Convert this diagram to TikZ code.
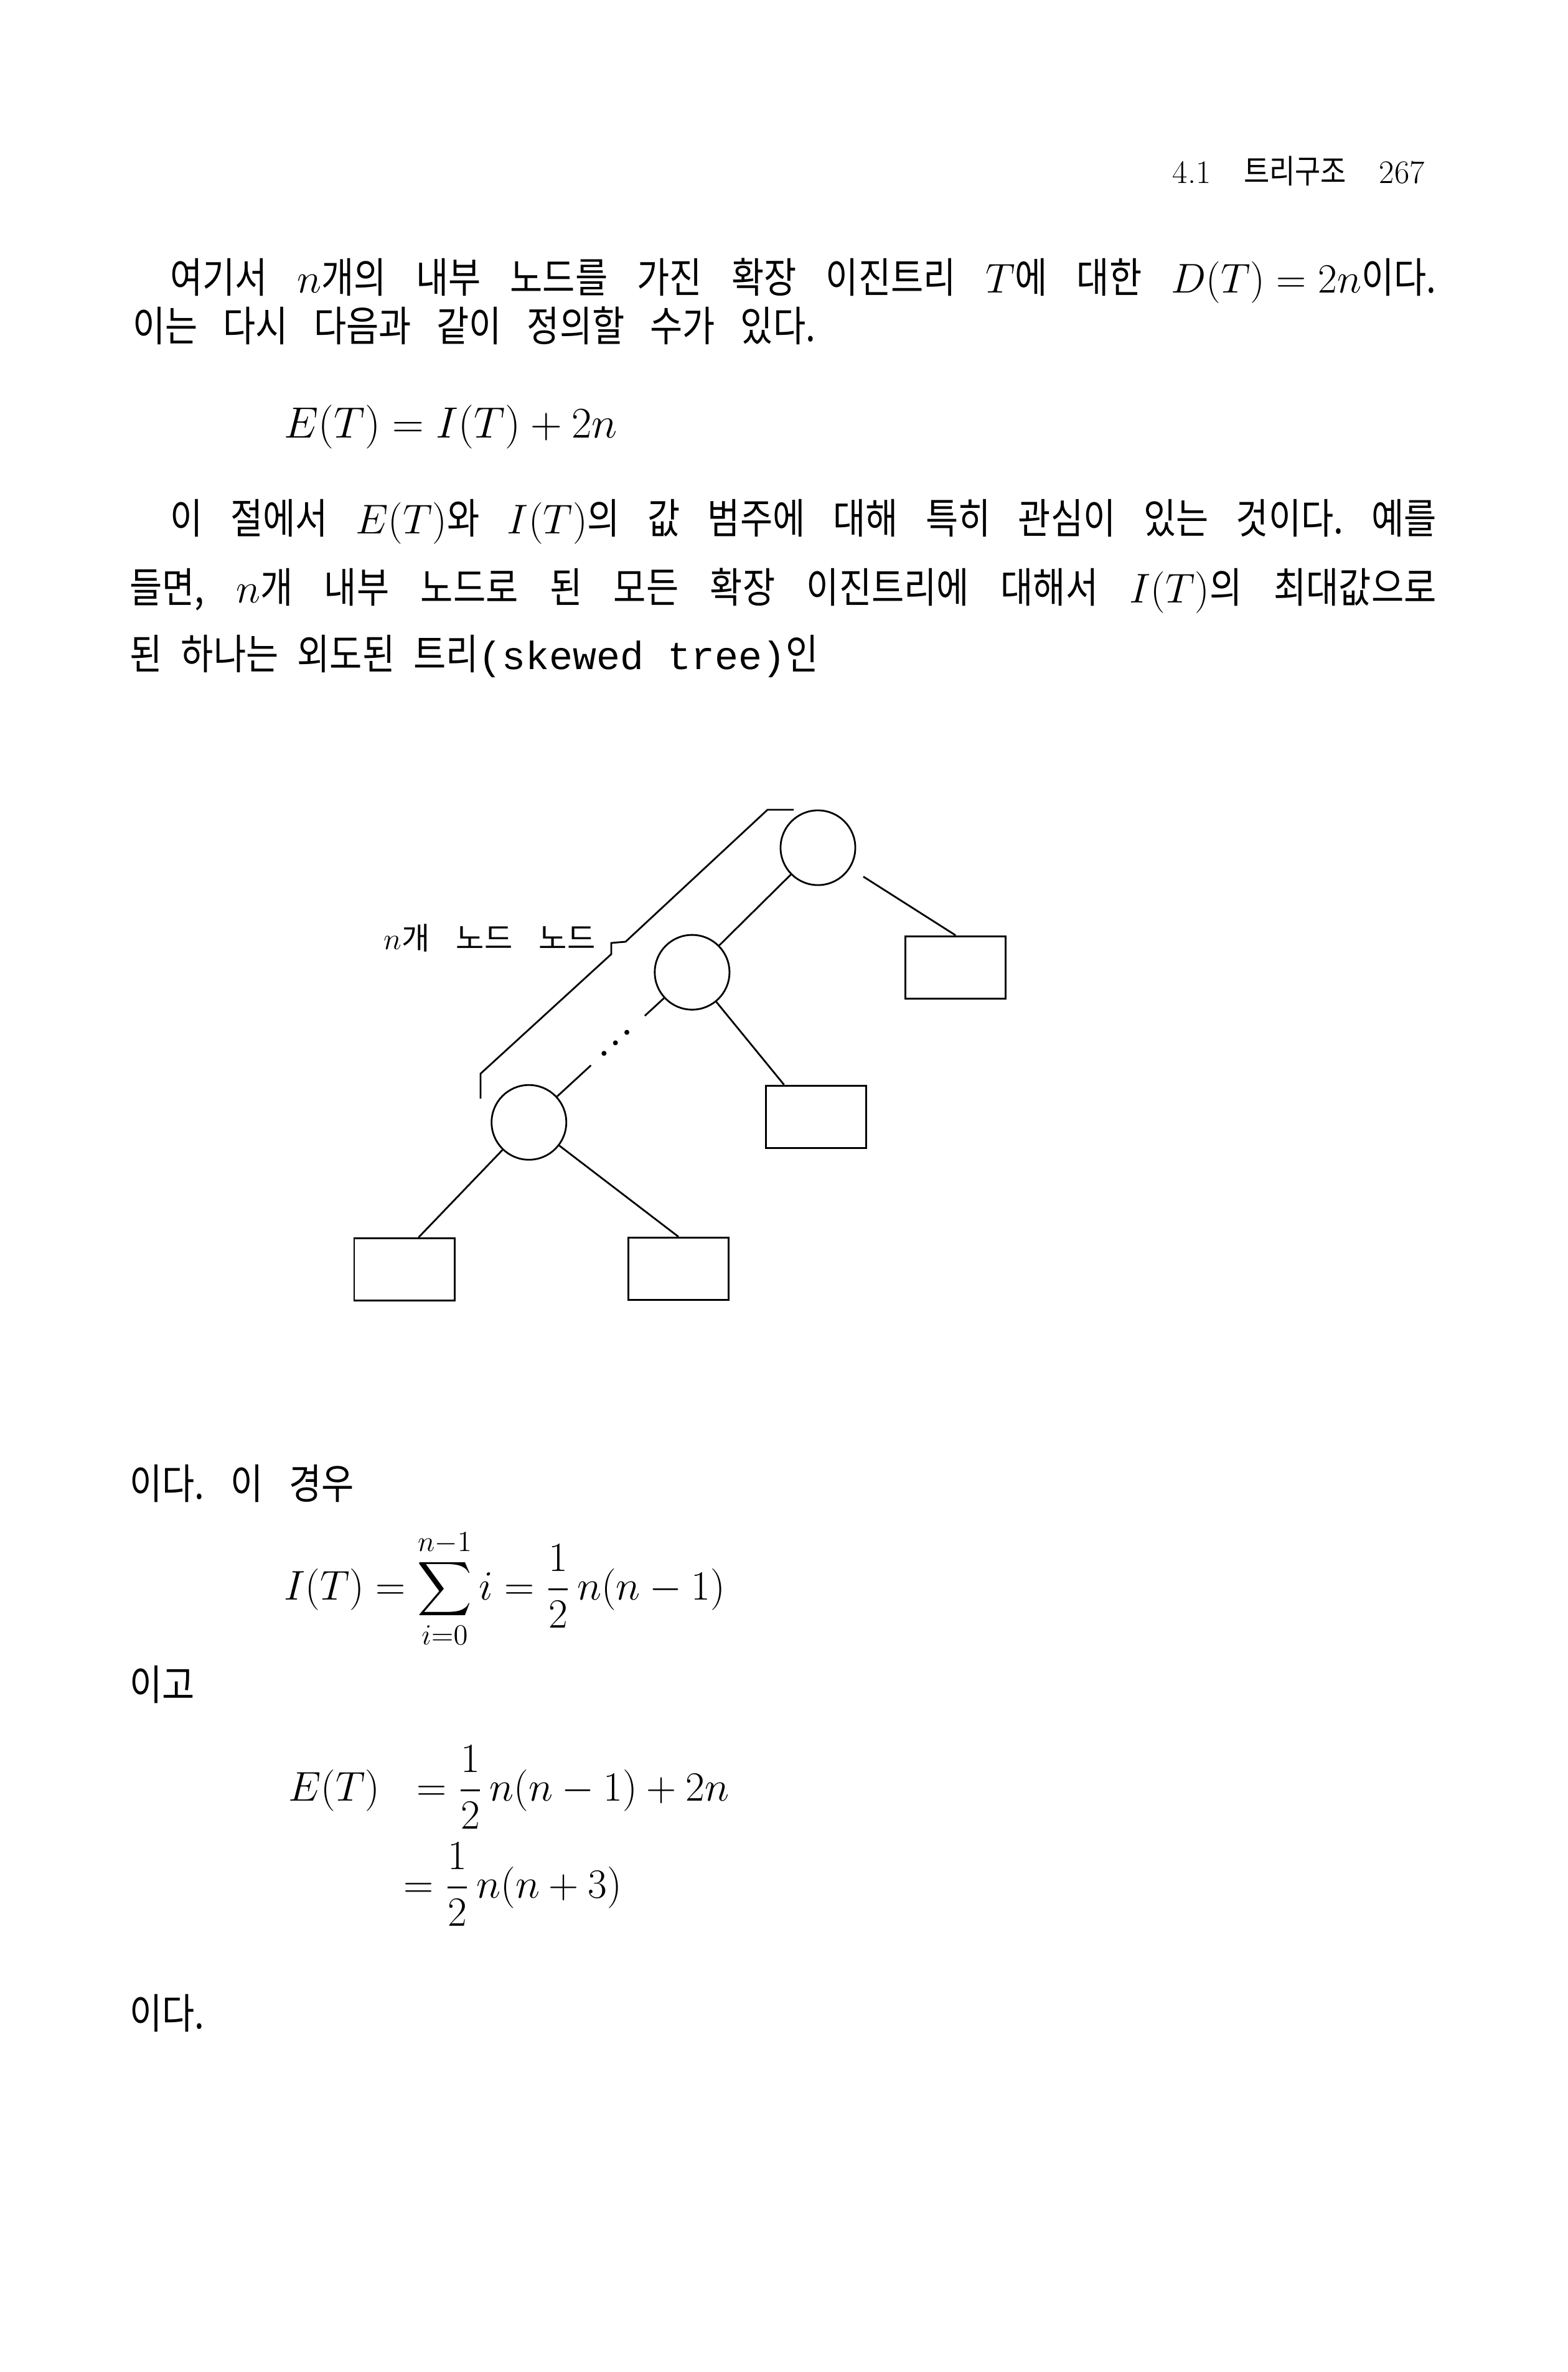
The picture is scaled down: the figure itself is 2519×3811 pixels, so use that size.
\RequirePackage{fix-cm}
\documentclass[tikz,border=0pt]{standalone}
\usepackage{amsmath}
\usepackage{fontspec}
\usepackage{tikz}
\usetikzlibrary{positioning,calc}
\newfontfamily\kr[FakeStretch=0.85]{Noto Sans CJK KR}
\newfontfamily\krwide{Noto Sans CJK KR}
\newfontfamily\krmono{Liberation Mono}
\newcommand{\jline}[2]{\makebox[#1][s]{#2}}
\newcommand{\mth}[1]{\mbox{\(#1\)}}
\frenchspacing

\begin{document}
\begin{tikzpicture}[x=0.01cm, y=-0.01cm, line width=0.8pt,
inner/.style={circle, draw=black, minimum size=1.2cm, on grid},
leaf/.style={rectangle, draw=black, minimum width=1.61cm, minimum height=1.0cm, on grid},
txt/.style={anchor=base west, inner sep=0pt, font=\kr\fontsize{19}{23}\selectfont},
eqn/.style={anchor=base west, inner sep=0pt, font=\fontsize{19}{23}\selectfont}
]
\fill[white] (0,0) rectangle (2519,3811);
\useasboundingbox (0,0) rectangle (2519,3811);
%Header
\node[anchor=base east, inner sep=0pt, font=\fontsize{15}{18}\selectfont] (head) at (2290,294)
  {4.1\quad{\kr 트리구조}\quad 267};
%Text
\node[txt] (l1) at (272,470) {\jline{20.33cm}{여기서 \mth{n}개의 내부 노드를 가진 확장 이진트리 \mth{T}에 대한 \mth{D(T)=2n}이다.}};
\node[txt] (l2) at (212,548) {\jline{10.96cm}{이는 다시 다음과 같이 정의할 수가 있다.}};
\node[eqn, font=\fontsize{20}{24}\selectfont] (eq1) at (455,703) {$E(T)=I(T)+2n$};
\node[txt] (l3) at (272,857) {\jline{20.33cm}{이 절에서 \mth{E(T)}와 \mth{I(T)}의 값 범주에 대해 특히 관심이 있는 것이다. 예를}};
\node[txt] (l4) at (207,968) {\jline{20.98cm}{들면, \mth{n}개 내부 노드로 된 모든 확장 이진트리에 대해서 \mth{I(T)}의 최대값으로}};
\node[txt] (l5) at (207,1075) {\jline{11.06cm}{된 하나는 외도된 트리\mbox{\krmono\fontsize{18}{22}\selectfont(skewed tree)}인}};
%Nodes
\node[inner] (root) at (1314,1362) {};
\node[inner] (mid)  [below left=2.0cm and 2.02cm of root] {};
\node[inner] (bot)  [below left=2.41cm and 2.62cm of mid] {};
\node[leaf]  (rb1)  [below right=1.92cm and 2.21cm of root] {};
\node[leaf]  (rb2)  [below right=2.32cm and 1.99cm of mid] {};
\node[leaf]  (lb1)  [below left=2.36cm and 2.0cm of bot] {};
\node[leaf]  (lb2)  [below right=2.35cm and 2.4cm of bot] {};
%Lines
\draw (root) -- (mid);
\draw[shorten <=0.25cm] (root) -- (rb1.north);
\draw (mid) -- (rb2.135);
\draw (mid) -- ($(mid)!0.29!(bot)$);
\draw ($(mid)!0.62!(bot)$) -- (bot);
\foreach \t in {0.40,0.47,0.54}
  \fill ($(mid)!\t!(bot)$) circle (4);
\draw (bot) -- (lb1.66);
\draw (bot) -- (lb2.north);
%Bracket
\draw (1275,1301) -- (1233,1301) -- (1005,1513) -- (982,1515) -- (982,1533) -- (772,1725) -- (772,1765);
\node[anchor=east, inner sep=0pt, font=\krwide\fontsize{14}{17}\selectfont] (cnt) at (958,1507)
  {\jline{3.4cm}{\(n\)개 노드 노드}};
%Formulas
\node[txt] (l6) at (207,2408) {\jline{3.6cm}{이다. 이 경우}};
\node[eqn] (eq2) at (455,2570) {$\displaystyle I(T)=\sum_{i=0}^{n-1} i=\frac{1}{2}\,n(n-1)$};
\node[txt] (l7) at (207,2731) {이고};
\node[eqn] (eq3) at (462,2893) {$\displaystyle E(T)\ \ =\frac{1}{2}\,n(n-1)+2n$};
\node[eqn] (eq4) at (647,3049) {$\displaystyle =\frac{1}{2}\,n(n+3)$};
\node[txt] (l8) at (207,3259) {이다.};
\end{tikzpicture}
\end{document}
